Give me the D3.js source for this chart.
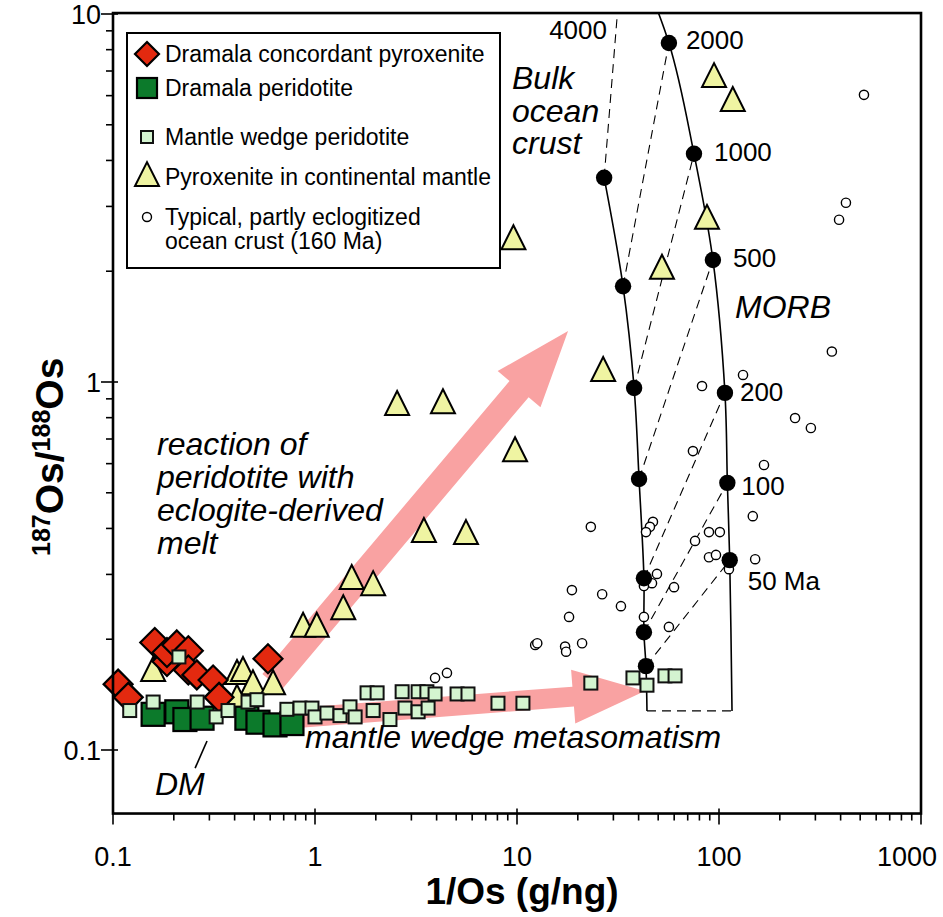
<!DOCTYPE html>
<html><head><meta charset="utf-8">
<script src="https://cdn.jsdelivr.net/npm/d3@7"></script>
<style>
body{margin:0;background:#fff;}
svg{display:block;font-family:"Liberation Sans",Arial,Helvetica,sans-serif;}
</style></head><body>
<svg id="chart" width="943" height="917"></svg>
<script>
// --- data: [1/Os (g/ng), 187Os/188Os] ---
const dramalaPyroxenite = [[0.106,0.151],[0.119,0.139],[0.161,0.196],[0.185,0.174],[0.185,0.184],[0.207,0.193],[0.236,0.186],[0.236,0.165],[0.260,0.160],[0.313,0.155],[0.335,0.139],[0.585,0.177]];
const dramalaPeridotite = [[0.158,0.125],[0.207,0.127],[0.227,0.121],[0.276,0.122],[0.460,0.122],[0.522,0.119],[0.634,0.117],[0.769,0.118]];
const mantleWedge = [[0.121,0.128],[0.158,0.135],[0.261,0.135],[0.324,0.123],[0.371,0.128],[0.466,0.135],[0.516,0.137],[0.726,0.129],[0.843,0.130],[0.966,0.130],[1.0,0.123],[1.146,0.126],[1.33,0.124],[1.49,0.131],[1.58,0.123],[1.81,0.143],[2.03,0.143],[1.94,0.128],[2.35,0.121],[2.70,0.144],[2.79,0.130],[3.24,0.144],[3.58,0.144],[3.93,0.142],[3.24,0.127],[3.63,0.130],[5.05,0.142],[5.72,0.142],[8.05,0.134],[10.7,0.134],[23.2,0.152],[37.5,0.157],[44.0,0.150],[54.0,0.159],[60.6,0.159],[0.212,0.179]];
const contPyroxenite = [[0.158,0.163],[0.411,0.160],[0.440,0.163],[0.493,0.150],[0.620,0.150],[0.411,0.137],[0.873,0.215],[1.02,0.215],[1.38,0.240],[1.52,0.290],[1.94,0.279],[3.46,0.389],[5.59,0.384],[2.55,0.861],[4.30,0.871],[9.78,0.645],[9.6,2.43],[26.7,1.065],[52.2,2.02],[87.2,2.76],[94.5,6.70],[117,5.77]];
const oceanCrust = [[522,6.03],[425,3.07],[393,2.76],[362,1.21],[131.5,1.045],[82.4,0.975],[238,0.798],[285,0.750],[74.3,0.649],[167,0.595],[23.2,0.404],[47.1,0.417],[45.5,0.404],[43.5,0.391],[76.1,0.370],[89.2,0.391],[101,0.391],[147,0.432],[89.2,0.334],[96.6,0.339],[151,0.330],[112,0.310],[49.3,0.301],[46.6,0.284],[42.5,0.279],[59.9,0.277],[18.7,0.272],[26.4,0.265],[32.7,0.246],[18.1,0.230],[42.5,0.230],[56.5,0.216],[12.3,0.193],[12.6,0.195],[17.3,0.191],[17.5,0.185],[21.0,0.195],[4.50,0.162],[3.93,0.157]];

// model growth curves (age in Ma)
const ages  = [0, 50, 100, 200, 500, 1000, 2000, 4000];
const bulkX = [44.0, 43.5, 42.5, 42.5, 40.2, 38.0, 33.5, 27.0];
const bulkY = [0.1277, 0.169, 0.209, 0.293, 0.545, 0.963, 1.82, 3.59];
const morbX = [116, 113, 110, 107, 93.3, 75.2, 56.5, 33.9];
const morbY = [0.1277, 0.328, 0.532, 0.934, 2.146, 4.17, 8.34, 16.9];

// arrows [from, to] in data units
const arrowReaction = [[0.612, 0.153], [17.9, 1.376]];
const arrowWedge = [[0.70, 0.1214], [43.0, 0.1446]];
const dmLeader = [[0.292, 0.1058], [0.255, 0.0893]];

const xTicksMajor = [0.1, 1, 10, 100, 1000];
const yTicksMajor = [0.1, 1, 10];
const xLabels = ['0.1', '1', '10', '100', '1000'];
const yLabels = ['0.1', '1', '10'];

const legendItems = [
  {sym: 'diamond', text: ['Dramala concordant pyroxenite']},
  {sym: 'bigsq', text: ['Dramala peridotite']},
  {sym: 'smallsq', text: ['Mantle wedge peridotite']},
  {sym: 'tri', text: ['Pyroxenite in continental mantle']},
  {sym: 'circle', text: ['Typical, partly eclogitized', 'ocean crust (160 Ma)']},
];

// --- scales ---
const x = d3.scaleLog().domain([0.1, 1000]).range([113, 921]);
const y = d3.scaleLog().domain([0.1, 10]).range([750, 14]);
const Y_BOT = 0.0672, Y_TOP = 10.06;
const L = x(0.1), R = x(1000), T = y(Y_TOP), B = y(Y_BOT);

const RED = '#e3290f', DKGREEN = '#0c7a2b', LTGREEN = '#d4f4d0', YEL = '#eff4a2', PINK = '#f9a2a2';

const svg = d3.select('#chart');
svg.append('defs').append('clipPath').attr('id', 'plot')
  .append('rect').attr('x', L).attr('y', T).attr('width', R - L).attr('height', B - T);

const sym = {
  diamond: (g, s) => g.append('path').attr('d', `M0,${-s}L${s},0L0,${s}L${-s},0Z`).attr('fill', RED).attr('stroke', '#000').attr('stroke-width', 2.2),
  bigsq: (g, s) => g.append('rect').attr('x', -s/2).attr('y', -s/2).attr('width', s).attr('height', s).attr('fill', DKGREEN).attr('stroke', '#000').attr('stroke-width', 2.2),
  smallsq: (g, s) => g.append('rect').attr('x', -s/2).attr('y', -s/2).attr('width', s).attr('height', s).attr('fill', LTGREEN).attr('stroke', '#111').attr('stroke-width', 2),
  tri: (g, s) => g.append('path').attr('d', `M0,${-s*0.62}L${s/2},${s*0.38}L${-s/2},${s*0.38}Z`).attr('fill', YEL).attr('stroke', '#000').attr('stroke-width', 2),
  circle: (g, s) => g.append('circle').attr('r', s).attr('fill', '#fff').attr('stroke', '#000').attr('stroke-width', 1.4),
};

function arrowPath(p0, p1, shaftW, headW, headL) {
  const dx = p1[0] - p0[0], dy = p1[1] - p0[1], len = Math.hypot(dx, dy);
  const ux = dx / len, uy = dy / len, nx = -uy, ny = ux;
  const bx = p1[0] - ux * headL, by = p1[1] - uy * headL;
  const pts = [
    [p0[0] + nx*shaftW/2, p0[1] + ny*shaftW/2], [bx + nx*shaftW/2, by + ny*shaftW/2],
    [bx + nx*headW/2, by + ny*headW/2], p1, [bx - nx*headW/2, by - ny*headW/2],
    [bx - nx*shaftW/2, by - ny*shaftW/2], [p0[0] - nx*shaftW/2, p0[1] - ny*shaftW/2]];
  return d3.line()(pts) + 'Z';
}
const px = d => [x(d[0]), y(d[1])];

// arrows (behind everything)
const plot = svg.append('g').attr('clip-path', 'url(#plot)');
plot.append('path').attr('d', arrowPath(px(arrowReaction[0]), px(arrowReaction[1]), 25, 56, 76)).attr('fill', PINK);
plot.append('path').attr('d', arrowPath(px(arrowWedge[0]), px(arrowWedge[1]), 20, 54, 72)).attr('fill', PINK);

// model curves + tie lines
const bulk = ages.map((a, i) => [bulkX[i], bulkY[i]]);
const morb = ages.map((a, i) => [morbX[i], morbY[i]]);
const line = d3.line().x(d => x(d[0])).y(d => y(d[1])).curve(d3.curveCatmullRom);
plot.selectAll('line.tie').data(ages).join('line').attr('class', 'tie')
  .attr('x1', (a, i) => x(bulkX[i])).attr('y1', (a, i) => y(bulkY[i]))
  .attr('x2', (a, i) => x(morbX[i])).attr('y2', (a, i) => y(morbY[i]))
  .attr('stroke', '#000').attr('stroke-width', 1.1).attr('stroke-dasharray', '9 6');
plot.append('path').attr('d', line(bulk)).attr('fill', 'none').attr('stroke', '#000').attr('stroke-width', 1.6);
plot.append('path').attr('d', line(morb)).attr('fill', 'none').attr('stroke', '#000').attr('stroke-width', 1.6);

// ocean crust circles
plot.selectAll('circle.oc').data(oceanCrust).join('circle').attr('class', 'oc')
  .attr('cx', d => x(d[0])).attr('cy', d => y(d[1])).attr('r', 4.6)
  .attr('fill', '#fff').attr('stroke', '#000').attr('stroke-width', 1.4);

// age dots
const dots = [...bulk.slice(1), ...morb.slice(1)];
plot.selectAll('circle.age').data(dots).join('circle').attr('class', 'age')
  .attr('cx', d => x(d[0])).attr('cy', d => y(d[1])).attr('r', 8.2).attr('fill', '#000');

// samples
function scatter(data, kind, size) {
  const g = svg.append('g');
  data.forEach(d => sym[kind](g.append('g').attr('transform', `translate(${x(d[0])},${y(d[1])})`), size));
}
scatter(contPyroxenite, 'tri', 24);
scatter(dramalaPeridotite, 'bigsq', 23);
scatter(dramalaPyroxenite, 'diamond', 14.5);
scatter(mantleWedge, 'smallsq', 13);

// DM leader
svg.append('line').attr('x1', x(dmLeader[0][0])).attr('y1', y(dmLeader[0][1]))
  .attr('x2', x(dmLeader[1][0])).attr('y2', y(dmLeader[1][1])).attr('stroke', '#000').attr('stroke-width', 1.6);

// age labels
const ageLab = svg.append('g').attr('font-size', 26).attr('fill', '#000');
const ageOff = {50: [18, 30, '50 Ma'], 100: [14, 12, '100'], 200: [15, 8, '200'], 500: [20, 7, '500'], 1000: [20, 7, '1000'], 2000: [17, 6, '2000']};
ages.forEach((a, i) => {
  if (!ageOff[a]) return;
  const o = ageOff[a];
  ageLab.append('text').attr('x', x(morbX[i]) + o[0]).attr('y', y(morbY[i]) + o[1]).text(o[2]);
});
ageLab.append('text').attr('x', 607).attr('y', 39).attr('text-anchor', 'end').text('4000');

// annotations
const ann = svg.append('g').attr('font-size', 32).attr('font-style', 'italic').attr('fill', '#000');
function multi(xp, yp, lines, dy) {
  lines.forEach((t, i) => ann.append('text').attr('x', xp).attr('y', yp + i * dy).text(t));
}
multi(512, 89, ['Bulk', 'ocean', 'crust'], 32.5);
multi(735, 318, ['MORB'], 0);
multi(157, 455, ['reaction of', 'peridotite with', 'eclogite-derived', 'melt'], 33);
multi(305, 748, ['mantle wedge metasomatism'], 0);
multi(155, 795, ['DM'], 0);

// frame
svg.append('rect').attr('x', L).attr('y', T).attr('width', R - L).attr('height', B - T)
  .attr('fill', 'none').attr('stroke', '#000').attr('stroke-width', 2.6);

// axes ticks
const decades = [0.1, 1, 10, 100];
const xMinor = decades.flatMap(d => d3.range(2, 10).map(k => k * d));
const yMinor = [0.1, 1].flatMap(d => d3.range(2, 10).map(k => k * d));
const ax = svg.append('g').attr('stroke', '#000').attr('stroke-width', 1.6);
ax.selectAll('line.xm').data(xMinor).join('line').attr('x1', d => x(d)).attr('x2', d => x(d)).attr('y1', B).attr('y2', B + 7);
ax.selectAll('line.xM').data(xTicksMajor).join('line').attr('x1', d => x(d)).attr('x2', d => x(d)).attr('y1', B - 5).attr('y2', B + 11);
ax.selectAll('line.ym').data(yMinor).join('line').attr('y1', d => y(d)).attr('y2', d => y(d)).attr('x1', L - 7).attr('x2', L);
ax.selectAll('line.yM').data(yTicksMajor).join('line').attr('y1', d => y(d)).attr('y2', d => y(d)).attr('x1', L - 12).attr('x2', L + 5);

const tl = svg.append('g').attr('font-size', 27).attr('fill', '#000');
tl.selectAll('text.xl').data(xTicksMajor).join('text').attr('x', d => x(d)).attr('y', 866)
  .attr('dx', d => d === 1000 ? -14 : 0).attr('text-anchor', 'middle').text((d, i) => xLabels[i]);
tl.selectAll('text.yl').data(yTicksMajor).join('text').attr('x', 101).attr('y', d => y(d) + 10).attr('text-anchor', 'end').text((d, i) => yLabels[i]);

// axis titles
svg.append('text').attr('x', 522).attr('y', 904).attr('text-anchor', 'middle')
  .attr('font-size', 37).attr('font-weight', 'bold').text('1/Os (g/ng)');
const yt = svg.append('text').attr('transform', 'translate(63,556) rotate(-90)').attr('text-anchor', 'start')
  .attr('font-size', 39).attr('font-weight', 'bold');
yt.append('tspan').attr('font-size', 25).attr('dy', -13).text('187');
yt.append('tspan').attr('dy', 13).text('Os/');
yt.append('tspan').attr('font-size', 25).attr('dy', -13).text('188');
yt.append('tspan').attr('dy', 13).text('Os');

// legend
const lg = svg.append('g');
lg.append('rect').attr('x', 127).attr('y', 33).attr('width', 373).attr('height', 235)
  .attr('fill', '#fff').attr('stroke', '#000').attr('stroke-width', 2);
const rowY = [54, 88, 137, 177, 217];
const symSize = {diamond: 12, bigsq: 20, smallsq: 12, tri: 24, circle: 4.5};
legendItems.forEach((it, i) => {
  const g = lg.append('g').attr('transform', `translate(147,${rowY[i]})`);
  sym[it.sym](g, symSize[it.sym]);
  it.text.forEach((t, j) => lg.append('text').attr('x', 165).attr('y', rowY[i] + 8 + j * 24)
    .attr('font-size', 23).text(t));
});
</script>
</body></html>
